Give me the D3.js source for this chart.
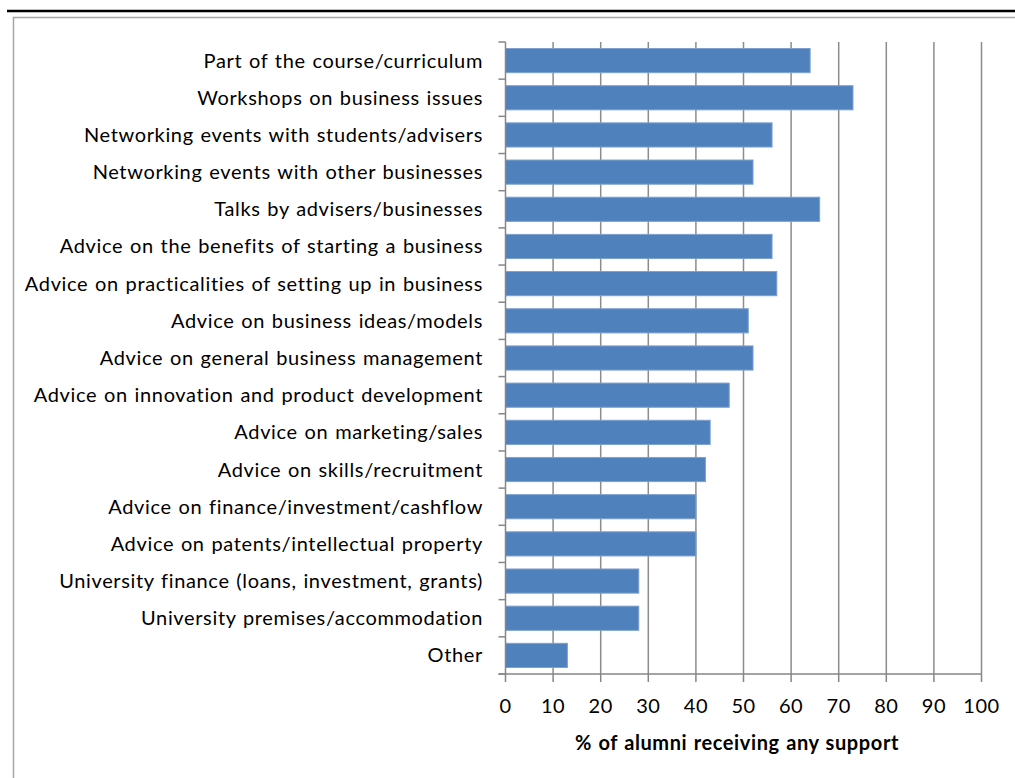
<!DOCTYPE html>
<html>
<head>
<meta charset="utf-8">
<script src="https://cdn.jsdelivr.net/npm/d3@7/dist/d3.min.js"></script>
<style>
  html, body { margin: 0; padding: 0; background: #fff; }
  svg { display: block; }
  text { font-family: Lato, "Open Sans", sans-serif; fill: #000; }
</style>
</head>
<body>
<svg id="chart" width="1015" height="778"></svg>
<script>
// Support types offered to alumni
const categories = [
  "Part of the course/curriculum",
  "Workshops on business issues",
  "Networking events with students/advisers",
  "Networking events with other businesses",
  "Talks by advisers/businesses",
  "Advice on the benefits of starting a business",
  "Advice on practicalities of setting up in business",
  "Advice on business ideas/models",
  "Advice on general business management",
  "Advice on innovation and product development",
  "Advice on marketing/sales",
  "Advice on skills/recruitment",
  "Advice on finance/investment/cashflow",
  "Advice on patents/intellectual property",
  "University finance (loans, investment, grants)",
  "University premises/accommodation",
  "Other"
];

// % of alumni receiving each kind of support
const values = [64, 73, 56, 52, 66, 56, 57, 51, 52, 47, 43, 42, 40, 40, 28, 28, 13];

// Value axis ticks
const xTicks = [0, 10, 20, 30, 40, 50, 60, 70, 80, 90, 100];
const xTitle = "% of alumni receiving any support";

const svg = d3.select("#chart");

// Page rule and chart frame
svg.append("line")
  .attr("x1", 7).attr("x2", 1015).attr("y1", 11).attr("y2", 11)
  .attr("stroke", "#000").attr("stroke-width", 2.5);
svg.append("path")
  .attr("d", "M13.5,778 V17.5 H1015")
  .attr("fill", "none").attr("stroke", "#a6a6a6").attr("stroke-width", 1.5);

const plotLeft = 505.5, plotRight = 981.5, plotTop = 42, plotBottom = 674;

const x = d3.scaleLinear().domain([0, 100]).range([plotLeft, plotRight]);
const y = d3.scaleBand().domain(categories).range([plotTop, plotBottom])
  .paddingInner(0.35).paddingOuter(0.175);

// Vertical gridlines
svg.append("g")
  .selectAll("line")
  .data(xTicks.slice(1))
  .join("line")
  .attr("x1", d => x(d)).attr("x2", d => x(d))
  .attr("y1", plotTop).attr("y2", plotBottom)
  .attr("stroke", "#8c8c8c").attr("stroke-width", 1.5);

// Bars
svg.append("g")
  .selectAll("rect")
  .data(values)
  .join("rect")
  .attr("x", x(0))
  .attr("y", (d, i) => y(categories[i]))
  .attr("width", d => x(d) - x(0))
  .attr("height", y.bandwidth())
  .attr("fill", "#4f81bd")
  .attr("stroke", "#7da0d0")
  .attr("stroke-width", 1);

// Category axis: line, ticks at band boundaries, labels
const catAxis = svg.append("g");
catAxis.append("line")
  .attr("x1", plotLeft).attr("x2", plotLeft).attr("y1", plotTop).attr("y2", plotBottom)
  .attr("stroke", "#868686").attr("stroke-width", 1.5);
const step = y.step();
catAxis.selectAll("line.tick")
  .data(d3.range(categories.length + 1))
  .join("line")
  .attr("class", "tick")
  .attr("x1", plotLeft - 7).attr("x2", plotLeft)
  .attr("y1", i => plotTop + i * step).attr("y2", i => plotTop + i * step)
  .attr("stroke", "#868686").attr("stroke-width", 1.5);
catAxis.selectAll("text")
  .data(categories)
  .join("text")
  .attr("x", 483)
  .attr("y", d => y(d) + y.bandwidth() / 2)
  .attr("dy", "0.35em")
  .attr("text-anchor", "end")
  .attr("font-size", 20)
  .attr("letter-spacing", 0.65)
  .attr("word-spacing", 1)
  .text(d => d);

// Value axis
const valAxis = svg.append("g");
valAxis.append("line")
  .attr("x1", plotLeft - 7).attr("x2", plotRight).attr("y1", plotBottom).attr("y2", plotBottom)
  .attr("stroke", "#868686").attr("stroke-width", 1.5);
valAxis.selectAll("line.tick")
  .data(xTicks)
  .join("line")
  .attr("class", "tick")
  .attr("x1", d => x(d)).attr("x2", d => x(d))
  .attr("y1", plotBottom).attr("y2", plotBottom + 8)
  .attr("stroke", "#868686").attr("stroke-width", 1.5);
valAxis.selectAll("text")
  .data(xTicks)
  .join("text")
  .attr("x", d => x(d))
  .attr("y", 706)
  .attr("dy", "0.35em")
  .attr("text-anchor", "middle")
  .attr("font-size", 20)
  .attr("letter-spacing", 0.5)
  .text(d => d);

svg.append("text")
  .attr("x", 737)
  .attr("y", 743)
  .attr("dy", "0.35em")
  .attr("text-anchor", "middle")
  .attr("font-size", 20)
  .attr("font-weight", "bold")
  .attr("letter-spacing", 0.6)
  .attr("word-spacing", 1)
  .text(xTitle);
</script>
</body>
</html>
